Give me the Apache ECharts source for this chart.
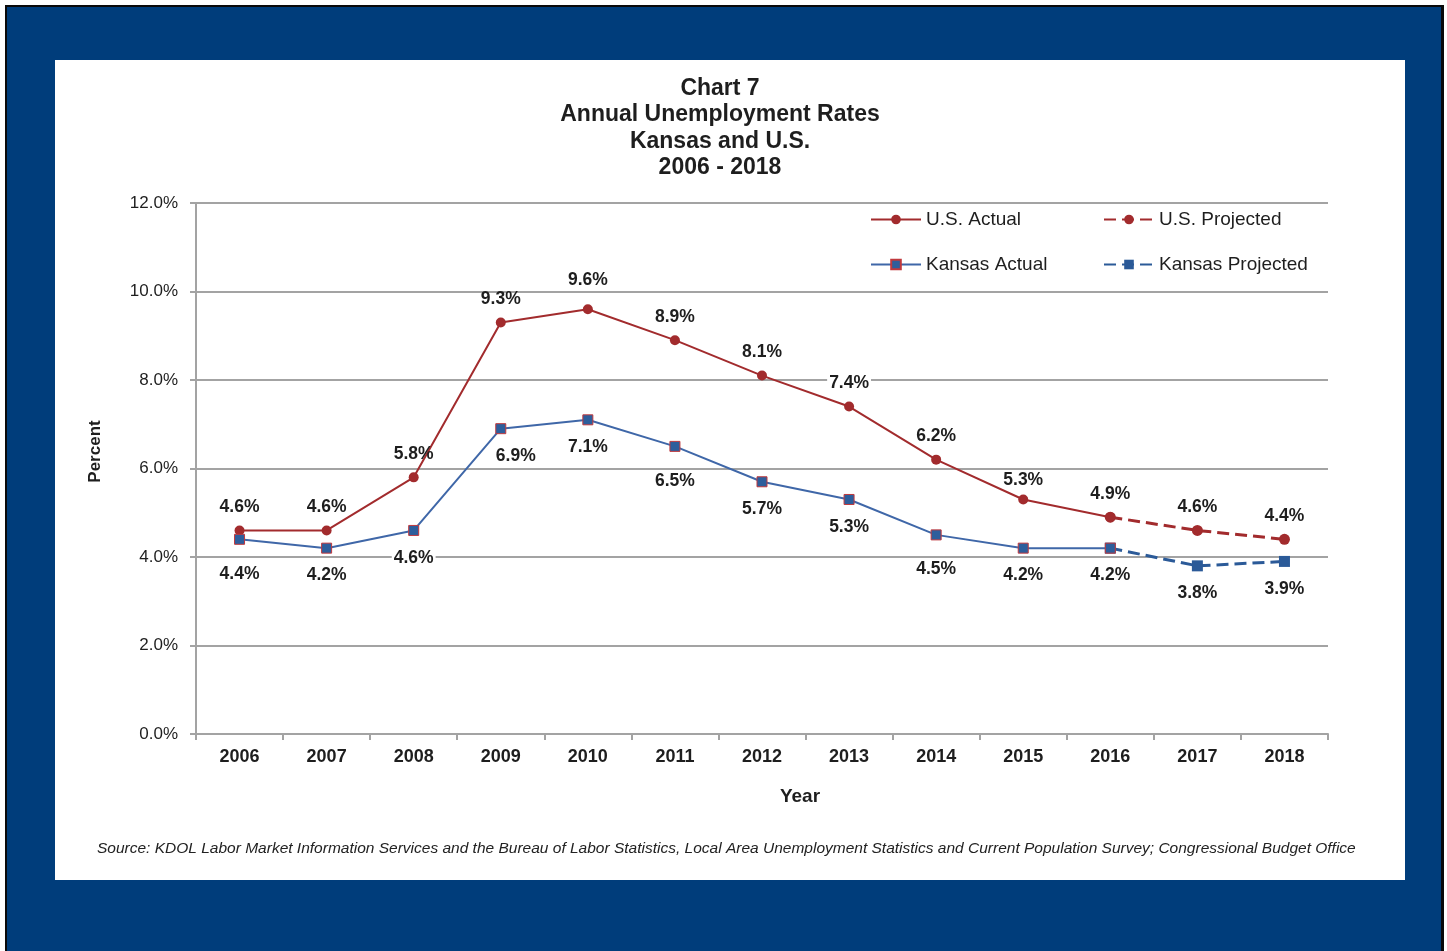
<!DOCTYPE html>
<html>
<head>
<meta charset="utf-8">
<script src="https://cdn.jsdelivr.net/npm/echarts@6/dist/echarts.min.js"></script>
<style>
  html, body { margin: 0; padding: 0; background: #ffffff; }
  #chart { width: 1447px; height: 951px; }
</style>
</head>
<body>
<div id="chart"></div>
<script>
// Years on the category axis
const years = ['2006', '2007', '2008', '2009', '2010', '2011', '2012', '2013', '2014', '2015', '2016', '2017', '2018'];
// Annual unemployment rates (%), actual through 2016, projected 2017-2018
const usActual = [4.6, 4.6, 5.8, 9.3, 9.6, 8.9, 8.1, 7.4, 6.2, 5.3, 4.9, null, null];
const usProjected = [null, null, null, null, null, null, null, null, null, null, 4.9, 4.6, 4.4];
const ksActual = [4.4, 4.2, 4.6, 6.9, 7.1, 6.5, 5.7, 5.3, 4.5, 4.2, 4.2, null, null];
const ksProjected = [null, null, null, null, null, null, null, null, null, null, 4.2, 3.8, 3.9];
const yTicks = [0, 2, 4, 6, 8, 10, 12];

const FONT = '"Liberation Sans", Arial, sans-serif';
const RED = '#a22b2d';
const BLUE_LINE = '#3f67a8';
const BLUE_MARK = '#2d5e9c';
const BLUE_DASH = '#2b5a98';
const TEXT = '#1e1e1e';

const labelBase = {
  show: true,
  fontFamily: FONT,
  fontSize: 17.5,
  fontWeight: 'bold',
  color: TEXT,
  padding: [1, 2],
  formatter: p => p.value.toFixed(1) + '%'
};

// Per-point label tweaks: nudges, and a white patch where a label sits on a gridline
const usLabelTweaks = {
  4: { offset: [0, -6] },
  7: { backgroundColor: '#ffffff' },
  9: { offset: [0, 4] }
};
const ksLabelTweaks = {
  0: { offset: [0, 7] },
  2: { backgroundColor: '#ffffff' },
  3: { offset: [15, 0] },
  5: { offset: [0, 7] },
  8: { offset: [0, 7] }
};
function withTweaks(arr, tweaks) {
  return arr.map((v, i) => (v === null ? null : (tweaks[i] ? { value: v, label: tweaks[i] } : v)));
}
// Projected series repeat the 2016 value only to join the lines; no label there
function projectedData(arr) {
  return arr.map((v, i) => (v === null ? null : { value: v, label: { show: i > 10 } }));
}

const chart = echarts.init(document.getElementById('chart'), null, { renderer: 'canvas' });

const legendText = { fontFamily: FONT, fontSize: 19, color: TEXT };
function legendAt(name, left, top) {
  return {
    data: [name], left: left, top: top, itemWidth: 50, itemHeight: 12, itemGap: 0,
    textStyle: legendText, selectedMode: false, padding: 0
  };
}

chart.setOption({
  animation: false,
  graphic: [
    { type: 'rect', shape: { x: 5, y: 5, width: 1439, height: 960 }, style: { fill: '#0a0a0a' }, z: -10 },
    { type: 'rect', shape: { x: 7, y: 7, width: 1434, height: 960 }, style: { fill: '#003d7b' }, z: -9 },
    { type: 'rect', shape: { x: 55, y: 60, width: 1350, height: 820 }, style: { fill: '#ffffff' }, z: -8 },
    {
      type: 'text', left: 97, top: 841, z: 5,
      style: {
        text: 'Source: KDOL Labor Market Information Services and the Bureau of Labor Statistics, Local Area Unemployment Statistics and Current Population Survey; Congressional Budget Office',
        fontFamily: FONT, fontSize: 15.5, fontStyle: 'italic', fill: '#222222'
      }
    }
  ],
  title: {
    text: 'Chart 7\nAnnual Unemployment Rates\nKansas and U.S.\n2006 - 2018',
    left: 715, top: 70, textAlign: 'center',
    textStyle: { fontFamily: FONT, fontSize: 23, fontWeight: 'bold', color: TEXT, lineHeight: 26.5 }
  },
  legend: [
    legendAt('U.S. Actual', 870, 210),
    legendAt('U.S. Projected', 1103, 210),
    legendAt('Kansas Actual', 870, 255),
    legendAt('Kansas Projected', 1103, 255)
  ],
  grid: { left: 196, right: 119, top: 203, bottom: 217, containLabel: false },
  xAxis: {
    type: 'category',
    data: years,
    boundaryGap: true,
    name: 'Year', nameLocation: 'middle', nameGap: 53,
    nameTextStyle: { fontFamily: FONT, fontSize: 19, fontWeight: 'bold', color: TEXT, padding: [0, 0, 0, 76] },
    axisLine: { lineStyle: { color: '#a3a3a3', width: 2 } },
    axisTick: { show: true, length: 6, lineStyle: { color: '#a3a3a3', width: 2 } },
    axisLabel: { fontFamily: FONT, fontSize: 18, fontWeight: 'bold', color: TEXT, margin: 14 }
  },
  yAxis: {
    type: 'value',
    min: yTicks[0], max: yTicks[yTicks.length - 1], interval: 2,
    name: 'Percent', nameLocation: 'middle', nameGap: 92, nameRotate: 90,
    nameTextStyle: { fontFamily: FONT, fontSize: 17, fontWeight: 'bold', color: TEXT, padding: [0, 0, 0, 34] },
    axisLine: { show: true, lineStyle: { color: '#a3a3a3', width: 2 } },
    axisTick: { show: true, length: 6, lineStyle: { color: '#a3a3a3', width: 2 } },
    splitLine: { show: true, lineStyle: { color: '#a3a3a3', width: 2 } },
    axisLabel: { fontFamily: FONT, fontSize: 17, color: TEXT, margin: 18, formatter: v => v.toFixed(1) + '%' }
  },
  series: [
    {
      name: 'U.S. Actual', type: 'line', data: withTweaks(usActual, usLabelTweaks), z: 4,
      symbol: 'circle', symbolSize: 10,
      lineStyle: { color: RED, width: 2 },
      itemStyle: { color: RED },
      label: Object.assign({}, labelBase, { position: 'top', distance: 8 })
    },
    {
      name: 'U.S. Projected', type: 'line', data: projectedData(usProjected), z: 3,
      symbol: 'circle', symbolSize: 11,
      lineStyle: { color: RED, width: 3, type: [12, 6] },
      itemStyle: { color: RED },
      label: Object.assign({}, labelBase, { position: 'top', distance: 8 })
    },
    {
      name: 'Kansas Actual', type: 'line', data: withTweaks(ksActual, ksLabelTweaks), z: 4,
      symbol: 'rect', symbolSize: 10,
      lineStyle: { color: BLUE_LINE, width: 2 },
      itemStyle: { color: BLUE_MARK, borderColor: '#c0393d', borderWidth: 1 },
      label: Object.assign({}, labelBase, { position: 'bottom', distance: 12 })
    },
    {
      name: 'Kansas Projected', type: 'line', data: projectedData(ksProjected), z: 3,
      symbol: 'rect', symbolSize: 11,
      lineStyle: { color: BLUE_DASH, width: 3, type: [12, 6] },
      itemStyle: { color: BLUE_DASH },
      label: Object.assign({}, labelBase, { position: 'bottom', distance: 12 })
    }
  ]
});
</script>
</body>
</html>
